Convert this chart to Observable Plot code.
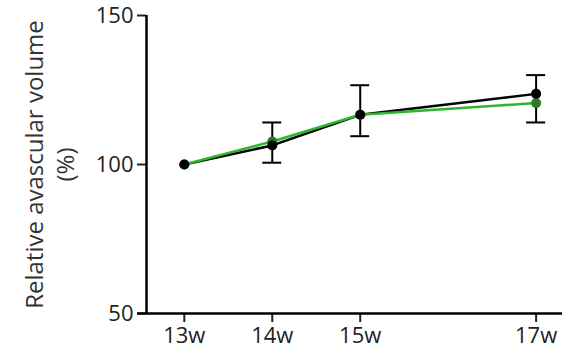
<!DOCTYPE html>
<html>
<head>
<meta charset="utf-8">
<script src="https://cdn.jsdelivr.net/npm/d3@7"></script>
<script src="https://cdn.jsdelivr.net/npm/@observablehq/plot@0.6"></script>
<style>
  html, body { margin: 0; padding: 0; background: #fff; }
</style>
</head>
<body>
<div id="chart"></div>
<script>
const weeks = [13, 14, 15, 17];
const weekLabels = ["13w", "14w", "15w", "17w"];
const blackValues = [100, 106.4, 116.7, 123.7];
const greenValues = [100, 107.7, 116.7, 120.6];
const errLow  = [null, 100.6, 109.5, 114.1];
const errHigh = [null, 114.1, 126.6, 130.0];
const yTicks = [50, 100, 150];
const xDomain = [12.57, 17.3];
const yDomain = [50, 150];
const yLabel = "Relative avascular volume\n(%)";

const black = weeks.map((w, i) => ({w, v: blackValues[i]}));
const green = weeks.map((w, i) => ({w, v: greenValues[i]}));
const errs = weeks.map((w, i) => ({w, lo: errLow[i], hi: errHigh[i]})).filter(d => d.lo != null);
const caps = errs.flatMap(d => [{w: d.w, y: d.lo}, {w: d.w, y: d.hi}]);
const capHalf = 0.108; // half cap width in weeks

const font = "'Open Sans', sans-serif";

const chart = Plot.plot({
  width: 576,
  height: 356,
  marginLeft: 146,
  marginRight: 14,
  marginTop: 15,
  marginBottom: 43,
  style: {fontFamily: font, fontSize: "22px", color: "#222", background: "#fff"},
  x: {type: "linear", domain: xDomain},
  y: {type: "linear", domain: yDomain},
  marks: [
    Plot.axisY({ticks: yTicks, tickSize: 9, tickPadding: 4, strokeWidth: 2, label: null, fontSize: 22, fill: "#222"}),
    Plot.axisX({ticks: weeks, tickSize: 9, tickPadding: 5, strokeWidth: 2, label: null, fontSize: 22, fill: "#222",
      tickFormat: d => weekLabels[weeks.indexOf(d)]}),
    Plot.ruleX([xDomain[0]], {y1: yDomain[0], y2: yDomain[1], stroke: "#000", strokeWidth: 2.5}),
    Plot.ruleY([yDomain[0]], {x1: xDomain[0] - 0.1, x2: xDomain[1], stroke: "#000", strokeWidth: 2.5}),
    Plot.ruleX(errs, {x: "w", y1: "lo", y2: "hi", stroke: "#000", strokeWidth: 2}),
    Plot.ruleY(caps, {y: "y", x1: d => d.w - capHalf, x2: d => d.w + capHalf, stroke: "#000", strokeWidth: 2}),
    Plot.line(black, {x: "w", y: "v", stroke: "#000", strokeWidth: 2.5}),
    Plot.line(green, {x: "w", y: "v", stroke: "#2db52d", strokeWidth: 2.5}),
    Plot.dot(green, {x: "w", y: "v", r: 5, fill: "#2a7a2a"}),
    Plot.dot(black, {x: "w", y: "v", r: 5, fill: "#000"}),
    Plot.text([yLabel], {frameAnchor: "left", dx: -98, rotate: -90, fontSize: 24, lineHeight: 1.3, fill: "#333", textAnchor: "middle"})
  ]
});

document.getElementById("chart").appendChild(chart);
</script>
</body>
</html>
